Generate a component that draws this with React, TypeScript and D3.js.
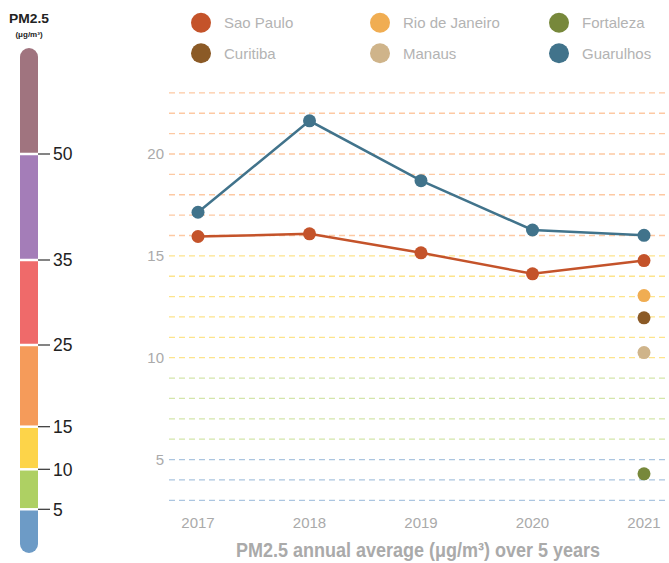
import React from "react";
import * as d3 from "d3";

const years = ["2017", "2018", "2019", "2020", "2021"];
const cities = ["Sao Paulo", "Rio de Janeiro", "Fortaleza", "Curitiba", "Manaus", "Guarulhos"];
const cityColors = ["#c4532a", "#f0ad52", "#77883b", "#8b5a26", "#cfb48a", "#41738b"];
const saoPaulo = [15.95, 16.08, 15.15, 14.12, 14.77];
const rioDeJaneiro = [null, null, null, null, 13.05];
const fortaleza = [null, null, null, null, 4.3];
const curitiba = [null, null, null, null, 11.96];
const manaus = [null, null, null, null, 10.25];
const guarulhos = [17.14, 21.63, 18.69, 16.27, 16.01];
const seriesValues = [saoPaulo, rioDeJaneiro, fortaleza, curitiba, manaus, guarulhos];
const yTicks = [5, 10, 15, 20];
const gridValues = d3.range(3, 24);

const barBreaks = [0, 5, 10, 15, 25, 35, 50, 65];
const barColors = ["#6d9bc6", "#aed063", "#fdd449", "#f59b5a", "#ef6a6a", "#a47db8", "#a0747f"];
const barTicks = [5, 10, 15, 25, 35, 50];

function gridColor(v: number) {
  if (v <= 5) return "#abc5e0";
  if (v < 10) return "#d4e6ab";
  if (v <= 15) return "#fde48c";
  return "#fdc9a3";
}

export default function App() {
  const W = 669, H = 563;
  const x = d3.scalePoint<string>().domain(years).range([198, 644]);
  const y = d3.scaleLinear().domain([3, 23]).range([500.3, 92.9]);
  const bar = d3.scaleLinear().domain(barBreaks).range([553, 509.3, 469.3, 426.7, 345, 260, 154, 48]);
  const line = d3
    .line<number | null>()
    .defined((d) => d != null)
    .x((_, i) => x(years[i]) as number)
    .y((d) => y(d as number));

  const barX = 20, barW = 18;
  const font = "'Liberation Sans', Arial, Helvetica, sans-serif";

  return (
    <svg
      width={W}
      height={H}
      style={{ position: "absolute", left: 0, top: 0, background: "#fff" }}
      fontFamily={font}
    >
      <defs>
        <clipPath id="barClip">
          <rect x={barX} y={bar(65)} width={barW} height={bar(0) - bar(65)} rx={9} ry={9} />
        </clipPath>
      </defs>
      {/* colour bar */}
      <text x={29} y={23} textAnchor="middle" fontWeight="bold" fontSize={13.5} fill="#222" textLength={40} lengthAdjust="spacingAndGlyphs">PM2.5</text>
      <text x={29} y={37} textAnchor="middle" fontWeight="bold" fontSize={8} fill="#222">(μg/m³)</text>
      <g clipPath="url(#barClip)">
        {barColors.map((c, i) => (
          <rect
            key={i}
            x={barX}
            y={bar(barBreaks[i + 1])}
            width={barW}
            height={bar(barBreaks[i]) - bar(barBreaks[i + 1])}
            fill={c}
          />
        ))}
        {barTicks.map((t) => (
          <line key={t} x1={barX} x2={barX + barW} y1={bar(t)} y2={bar(t)} stroke="#fff" strokeWidth={2.5} />
        ))}
      </g>
      {barTicks.map((t) => (
        <g key={t}>
          <line x1={barX + barW} x2={50} y1={bar(t)} y2={bar(t)} stroke="#333" strokeWidth={1.2} />
          <text x={53} y={bar(t)} dy="0.36em" fontSize={17.5} fill="#222">{t}</text>
        </g>
      ))}

      {/* legend */}
      {cities.map((c, i) => {
        const col = i % 3, row = Math.floor(i / 3);
        const cx = [201, 380, 559][col];
        const cy = [22.7, 53.3][row];
        return (
          <g key={c}>
            <circle cx={cx} cy={cy} r={10} fill={cityColors[i]} />
            <text x={cx + 23} y={cy} dy="0.36em" fontSize={15} fill="#b3b3b3">{c}</text>
          </g>
        );
      })}

      {/* grid */}
      {gridValues.map((v) => (
        <line
          key={v}
          x1={169}
          x2={W}
          y1={y(v)}
          y2={y(v)}
          stroke={gridColor(v)}
          strokeWidth={1.3}
          strokeDasharray="6,4"
        />
      ))}
      {yTicks.map((t) => (
        <text key={t} x={164} y={y(t)} dy="0.36em" textAnchor="end" fontSize={15} fill="#aaa">{t}</text>
      ))}
      {years.map((yr) => (
        <text key={yr} x={x(yr)} y={528} textAnchor="middle" fontSize={15} fill="#aaa">{yr}</text>
      ))}

      {/* series */}
      {seriesValues.map((vals, si) => (
        <g key={cities[si]}>
          {vals.filter((v) => v != null).length > 1 && (
            <path d={line(vals) || ""} fill="none" stroke={cityColors[si]} strokeWidth={2.5} />
          )}
          {vals.map((v, i) =>
            v == null ? null : (
              <circle key={i} cx={x(years[i])} cy={y(v)} r={6.5} fill={cityColors[si]} />
            )
          )}
        </g>
      ))}

      <text
        x={418}
        y={557}
        textAnchor="middle"
        fontSize={20}
        fontWeight="bold"
        fill="#aaa"
        textLength={364}
        lengthAdjust="spacingAndGlyphs"
      >
        PM2.5 annual average (μg/m³) over 5 years
      </text>
    </svg>
  );
}
